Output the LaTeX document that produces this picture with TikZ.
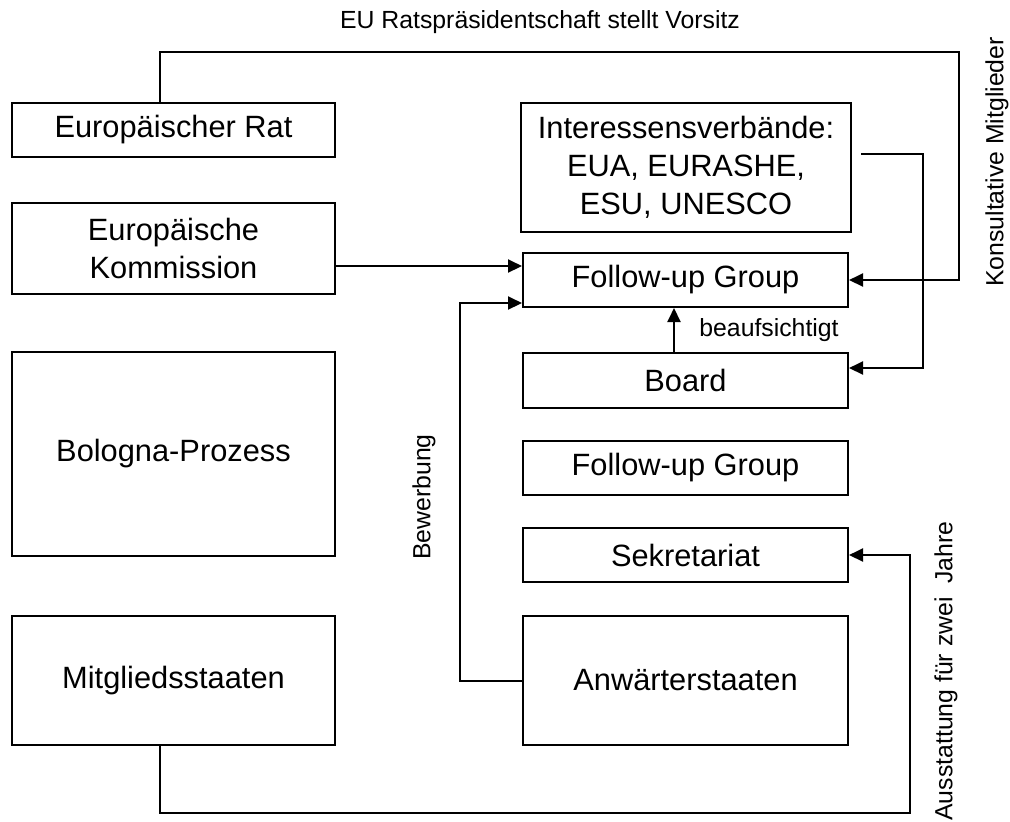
\documentclass[tikz,border=0pt]{standalone}
\usepackage{fontspec}
\setmainfont{Liberation Sans}
\usetikzlibrary{arrows.meta}
\begin{document}
\begin{tikzpicture}[x=0.5pt,y=-0.5pt,
  box/.style={draw,line width=1pt,inner sep=0pt,align=center,
    font=\fontsize{15.4}{19}\selectfont},
  conn/.style={line width=1pt},
  arr/.style={conn,-{Triangle[length=7pt,width=6.5pt]}},
  lbl/.style={inner sep=0pt,font=\fontsize{12.4}{15}\selectfont}]
\useasboundingbox (0,0) rectangle (1010,821);
% left column
\node[box,minimum width=161.5pt,minimum height=27pt] (rat) at (173.5,130) {Europäischer Rat};
\node[box,minimum width=161.5pt,minimum height=45.5pt] (komm) at (173.5,248.5) {Europäische\\Kommission};
\node[box,minimum width=161.5pt,minimum height=102pt] (bol) at (173.5,454) {Bologna-Prozess};
\node[box,minimum width=161.5pt,minimum height=64.5pt] (mit) at (173.5,680.5) {Mitgliedsstaaten};
% right column
\node[box,minimum width=165pt,minimum height=64.5pt] (int) at (686,167.5) {Interessensverbände:\\EUA, EURASHE,\\ESU, UNESCO};
\node[box,minimum width=162.5pt,minimum height=27pt] (fug) at (685.5,280) {Follow-up Group};
\node[box,minimum width=162.5pt,minimum height=27.5pt] (board) at (685.5,380.5) {Board};
\node[box,minimum width=162.5pt,minimum height=27pt] (fug2) at (685.5,468) {Follow-up Group};
\node[box,minimum width=162.5pt,minimum height=27pt] (sek) at (685.5,555) {Sekretariat};
\node[box,minimum width=162.5pt,minimum height=64.5pt] (anw) at (685.5,680.5) {Anwärterstaaten};
% routing coordinates
\coordinate (ratx) at (160,52);
\coordinate (topr) at (959,52);
\coordinate (intstart) at (861,154);
\coordinate (intr) at (923,154);
\coordinate (boardin) at (848,368);
\coordinate (kommy) at (0,266);
\coordinate (bewx) at (460,303);
\coordinate (supx) at (674,0);
\coordinate (bot) at (910,813);
% connectors
\draw[arr] (rat.north -| ratx) -- (ratx) -- (topr) |- (fug.east);
\draw[arr] (intstart) -- (intr) |- (board.east |- boardin);
\draw[arr] (komm.east |- kommy) -- (fug.west |- kommy);
\draw[arr] (board.north -| supx) -- (fug.south -| supx);
\draw[arr] (anw.west) -| (bewx) -- (fug.west |- bewx);
\draw[arr] (mit.south -| ratx) |- (bot) |- (sek.east);
% labels
\node[lbl] (l1) at (540,22) {EU Ratspräsidentschaft stellt Vorsitz};
\node[lbl,rotate=90] (l2) at (997,162) {Konsultative Mitglieder};
\node[lbl] (l3) at (769,330) {beaufsichtigt};
\node[lbl,rotate=90] (l4) at (424,497) {Bewerbung};
\node[lbl,rotate=90] (l5) at (946,671) {Ausstattung für zwei\ \ Jahre};
\end{tikzpicture}
\end{document}
